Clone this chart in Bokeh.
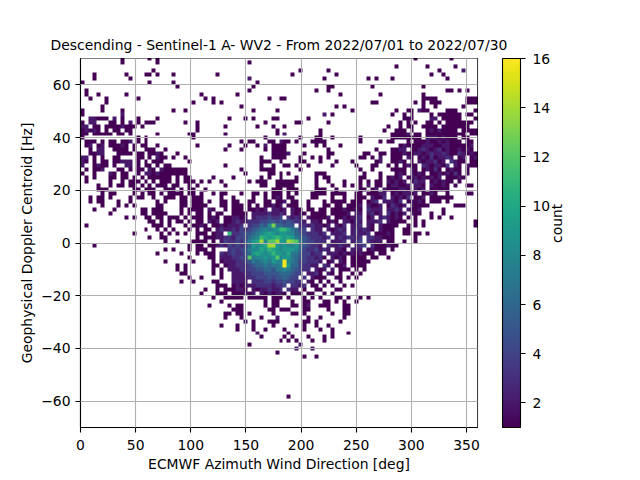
from math import pi

import numpy as np

from bokeh.embed import file_html
from bokeh.models import ColorBar, FixedTicker, LinearAxis, LinearColorMapper, Range1d
from bokeh.palettes import Viridis256
from bokeh.plotting import figure
from bokeh.resources import INLINE

# 2d histogram: one string per doppler bin (top to bottom),
# one character per wind bin, base 17 so that "g" is 16, "." is an empty bin
WIND_BINS = 100
DOPPLER_TOP = 70.76
DOPPLER_BIN = 1.51

rows_top = [
    ".......... 1......1.1 .......... .......... .......... .......... .......... .......... ....1..... ...1......",
    ".......... 1........1 .......... .......... ..1.......",
    ".......... .......... .......... .......... .......... .......... .......... .........1 .......1.. ....1.....",
    ".......... ........1. .......... .......... .......... .....1.... ..1....... .......... .......... 1.....2...",
    "...1...... .1....11.1 ...1...... ....1..... .......... ...1...... ....1..... .......... ........1. .1........",
    "...1...... ..1....... .......... .......... ..2....... .......... .1........ ..1.1...1. .......... ..1.......",
    "1......... .......1.. ...1...... .......... ....1.....",
    ".......... .......... ....1..... .......... ...1...... .......... ..11...... ...1...... ......1...",
    ".1........ .......... .......... .......... ..1....... .........1 ..1....... .......... .......... ..11.1.1..",
    ".1..1..... .1........ .......... 1........1 .......... .......... .....1.... .....1.... ......1...",
    "..1...1... ....1..... .......... .1.1...... .......1.. 11........ .......... .......... ......1111 .......111",
    "......1... .......... ........1. ...1.1.... .......... .......... .......... ...11..... ....1.1.11 1......111",
    ".....1.... .......... .......... .......... 1......... .......... ....1.1... .......... ......1..1 ......1...",
    "1....1.... 1......... ...1..1... .......... ...1.....1 .......... ........1. .........1 ..11.211.. ..111....1",
    "1......... 2......... .......... .......... .......... .......... .2.1...... ........1. .1.1....1. 111111.11.",
    "..22111.2. 1...1....1 .......... .......1.. .1.1....11 .......1.. .......... .......... .111....22 .11111...1",
    "1.22...11. 1.2.1.111. ......1..1 .......... ......1... ....11.... ..1....... .......... 1.1.1..11. 1.1111111.",
    "22.11.1111 2111.1.... .........1 ......1... ....1...1. .1........ .......... .......1.. 1.11..1111 .1111111..",
    "12121.1.11 .11....... .........1 .......... .........1 .......... 1......... ......1..1 11.1...121 21111.1111",
    "11.11111.1 1.1......1 .......11. ......1... .........1 .2........ 1......... ........11 112.11.111 1111111.11",
    "1......... ....1.1... ........1. .......... ......1... .....1...1 1..1...... 1.......11 111111.222 12111.11..",
    ".111.1.11. 112.1.1... .......... .......... 1.11...11. 211.1...11 11........ 1....1.11. ..1.111211 212111.11.",
    ".12.12.111 21.1.11..1 .........1 .......1.. .1..1.2.11 11....1..1 .1...1.... .......... 1211112221 122111112.",
    "..1.22..11 11.1..111. .1........ ......1... 1.....1.11 11........ ..1....... ....1...11 22.1123212 312112121.",
    "..1122...1 111.11.112 1...1..... .......... ........11 112...1... ..11...... .11..11.11 1211221232 2321132121",
]

rows_upper = [
    "22.1.1..11 ....11.1.2 11.1..1... .......... .....1..11 11...1..1. 1.1....... 11.1.2..11 1.21.12131 2232.12.12",
    "21.1.11.11 222.1.1.11 1......1.. .......... .....111.. 1....11... 1...1...1. ....12..11 21.1.21223 12.3211.11",
    "2..1211.1. .22.1.11.1 .11....... ......1... .....1..1. .11.1..1.. ...1.....1 ...11..1.1 .1211.3212 213.21.211",
    ".1.112...1 1.1.11.21. 2111111... .......... 1....1111. .....1.... .......... 1..1....11 11.21.1213 1.1211.1..",
    "1..1...21. 11..1.2212 1111111... .......... .1.....11. 1.1......1 11........ .1...1...1 21.2121.11 212131.1..",
    ".1.1...11. 11.1.1.111 111.1.11.. ...1....1. .....1.1.. 1...1....1 .11....... 11...1.121 2.12212121 2.11121...",
    ".1.....1.. 1.111.1.1. 111.1.111. 1.1..1.... ..1.111..1 11111....1 ..1...1... 1.1.11.212 12.1322.12 1211.1....",
    "....1..1.1 1.11.1.1.1 11.11..1.1 ......1... .....11..1 1111.....1 ...1..1.1. 1.2.11.122 112.221.21 121.1..11.",
    "....111... ...11.111. .111.1.11. .1........ ........11 1.111....1 11..1..... 11.12.2111 221.212.11 111.......",
    ".....1.11. ...1.1.11. 1.1111.11. 1..1.11... 1..11.1.11 1.1.1...11 11.1111..1 1.11122.12 12212.1121 ..1....11.",
    "..1.11.1.. ..1.11..1. .111.11.11 1....1..1. ...1..1.12 1.11....11 ...1..1..1 11.2113.21 213.112.11 1111......",
    "..1.11...1 ..1......1 .1...11.11 1.1..11.11 ..11..11.1 12.11..1.. .1.1111.11 1.123.2221 3.12121.11 1.1.......",
    ".....1...1 .1.1.....1 1....11.11 11...11.11 1.1.1.1121 2.111..1.. .11.11.111 2.2112.132 12.21111.. ....111...",
    "...1....1. .....11.11 1....1.111 1.21..1.11 1.11212.22 12.211.11. 11.1112112 1.3222.223 2.2112.... .1........",
    ".......1.. .....11.11 11...1.1.1 1.1.11..11 11.2222322 32.2121.11 11.11112.2 2.2312.312 12.211..1. .1........",
    ".......... .1.1..11.1 1.111.1.11 1.121.1122 12.2333433 4.3232.211 112.112122 3.12.23212 1.1.1...1. 1..1......",
]

rows_core = [
    ".......... .......11. 1.1.11.1.1 1.212.1123 2233344554 5454332.22 1.121.2213 2.2223.211 11..1.1... .........1",
    ".1........ ........11 1.1...1.11 21.1121222 3.344658d6 6555.33232 212.213.22 3.21.21111 ..1.1.1... .........1",
    ".......... ......1..1 .1.1...1.1 .11.232232 4345678789 bb97644.32 2.21232.23 2321.2111. .11....... ..........",
    ".......... ...1...... 1.1.1.1..1 11.122.b33 4556789a98 9988654333 23.2223.23 223.11121. .11.11.1.. ..........",
    ".......... .......1.. 11.......1 .111223324 44678ba9ab a9a9765433 323.232332 3.3322111. ....1..... ..........",
    ".......... .......... .1..1...11 11.1.24334 3579ae8cce 99edc75443 33.2223.23 4.3222.11. .1..1..... ..........",
    "...1...... .......... .......1.1 1.11232434 346989aee9 8988965433 2.322322.2 34.3111211 .......... ..........",
    ".......... .......... .1.1...1.1 11.1...343 45788a9ba9 8999864334 232.221.22 2.12111.1. .......... ..........",
    ".......... .........1 .....1...1 .111.32343 3569a989b9 98a7754423 3.22212121 2111.11... .......... ..........",
    ".......... .......... .......1.. ..11.22233 44c788989c 8997654332 31.2121.11 11.11..1.. .......... ..........",
    ".......... .......... .1......1. ...1.12223 3457678798 8g87644333 2.12.21.11 111....... .......... ..........",
    ".......... .......... ....1.1... ...11.1223 3345667677 8g96643322 .32.112.11 11........ .......... ..........",
    ".......... .......... ....1.1... ...1.1.222 3344556657 78765433.2 12.2.111.1 .1........ .......... ..........",
    ".......... .......... .....11... ...1.1..22 2334445555 666544.223 1.21.1..1. 1......... .......... ..........",
    ".......... .......... .......1.. 1....1..22 2233444545 56544.3.21 11..11.1.1 .......... .......... ..........",
    ".......... .......... .....1..1. ...11...22 22.3334434 454433.21. 1.1..1.... .......... .......... ..........",
    ".......... .......... .......... ....111.12 1222333323 34.3323.11 .1.1..1.1. .......... .......... ..........",
    ".......... .......... .......... .1..1.1112 21.2122322 3.322.1..1 1...11.... .......... .......... ..........",
    ".......... .......... .......... 1...111.11 1212.21212 21.111.11. .1.1...... .......... .......... ..........",
    ".......... .......... .......... ...1..1111 1.11111.11 1.1...1.1. 1...11.1.. 1.1....... .......... ..........",
]

rows_tail = [
    ".......... .......... .......... .....1.... ......1.11 ...1..11.. .11.1.1..1",
    ".......... .......... .......... ..1....1.1 1.....1.11 ...11.12.. 111...11..",
    ".......... .......... .......... ........11 1......11. 111...11.. ..1...11..",
    ".......... .......... .......... ......11.1 1.1.....1. ...11.1... ...1..11..",
    ".......... .......... .......... ......1... 1....1...2 .......1.. 1.....1...",
    ".......... .......... .......... .......... .2.1...111 ......11.1 .....1....",
    ".......... .......... .......... .....1...1 ...1....1. ....1.1..1 ..1.......",
    ".......... .......... .......... .........1 ...1..1... .1....1... 1..1......",
    ".......... .......... .......... .......... ....2..... ..1....... ...1...1..",
    ".......... .......... .......... .......... .....1.... .1.1...1.. .1.1......",
    ".......... .......... .......... .......... .......... 1.1.1...1. .1........",
    ".......... .......... .......... .......... ..1....... .....2....",
    ".......... .......... .......... .......... .......... ....2...2.",
    ".......... .......... .......... .......... .........1",
    ".......... .......... .......... .......... .......... ......1..1",
    "", "", "", "", "", "", "", "", "",
    ".......... .......... .......... .......... .......... ..1.......",
]

x_ticks = [0, 50, 100, 150, 200, 250, 300, 350]
y_ticks = [-60, -40, -20, 0, 20, 40, 60]
bar_ticks = [2, 4, 6, 8, 10, 12, 14, 16]

rows = rows_top + rows_upper + rows_core + rows_tail + [""] * 8
counts = np.full((len(rows), WIND_BINS), np.nan)
for r, row in enumerate(rows):
    for c, ch in enumerate(row.replace(" ", "")):
        if ch != ".":
            counts[r, c] = int(ch, 17)

mapper = LinearColorMapper(palette=Viridis256, low=1, high=16, nan_color="white")

FONT = "DejaVu Sans"
SIZE = "13.9px"

p = figure(
    frame_width=397,
    frame_height=369,
    x_range=Range1d(0, 360),
    y_range=Range1d(-70, 70),
    output_backend="svg",
    toolbar_location=None,
    min_border_left=80,
    min_border_top=58,
    min_border_bottom=50,
    min_border_right=150,
)

# image rows run bottom to top
height = len(rows) * DOPPLER_BIN
p.image(image=[counts[::-1]], x=0, y=DOPPLER_TOP - height, dw=360, dh=height, color_mapper=mapper)

p.title.text = "Descending - Sentinel-1 A- WV2 - From 2022/07/01 to 2022/07/30"
p.title.align = "center"
p.title.text_font = FONT
p.title.text_font_size = SIZE
p.title.text_font_style = "normal"
p.title.text_color = "black"
p.title.standoff = 12

p.xaxis.ticker = FixedTicker(ticks=x_ticks)
p.yaxis.ticker = FixedTicker(ticks=y_ticks)
p.xaxis.axis_label = "ECMWF Azimuth Wind Direction [deg]"
p.yaxis.axis_label = "Geophysical Doppler Centroid [Hz]"
p.yaxis.major_label_overrides = {v: str(v).replace("-", "\u2212") for v in y_ticks}

for ax in (p.xaxis[0], p.yaxis[0]):
    ax.axis_label_text_font = FONT
    ax.axis_label_text_font_size = SIZE
    ax.axis_label_text_font_style = "normal"
    ax.axis_label_text_color = "black"
    ax.major_label_text_font = FONT
    ax.major_label_text_font_size = SIZE
    ax.major_label_text_color = "black"
    ax.major_tick_in = 0
    ax.major_tick_out = 5
    ax.minor_tick_line_color = None
    ax.axis_line_width = 1.1
    ax.major_tick_line_width = 1.1
p.xaxis.major_label_standoff = 7
p.xaxis.axis_label_standoff = 3
p.yaxis.axis_label_standoff = 3
p.yaxis.major_label_orientation = "horizontal"

p.grid.level = "overlay"
p.grid.grid_line_color = "#b0b0b0"
p.grid.grid_line_width = 1.1
p.outline_line_color = "black"
p.outline_line_width = 1.1

bar = ColorBar(
    color_mapper=mapper,
    ticker=FixedTicker(ticks=bar_ticks),
    location=(422, 0),
    width=18,
    height=369,
    margin=0,
    padding=0,
    background_fill_color=None,
    major_tick_in=0,
    major_tick_out=5,
    major_tick_line_color="black",
    major_tick_line_width=1.1,
    minor_tick_line_color=None,
    bar_line_color="black",
    bar_line_width=1.1,
    label_standoff=7,
    major_label_text_font=FONT,
    major_label_text_font_size=SIZE,
    major_label_text_color="black",
)
p.add_layout(bar)

# an empty right axis only carries the colour bar's label
count_axis = LinearAxis(
    ticker=FixedTicker(ticks=[]),
    axis_label="count",
    axis_label_standoff=79,
    axis_label_orientation=pi / 2,
    axis_label_text_font=FONT,
    axis_label_text_font_size=SIZE,
    axis_label_text_font_style="normal",
    axis_label_text_color="black",
    axis_line_color=None,
    major_tick_line_color=None,
    minor_tick_line_color=None,
)
p.add_layout(count_axis, "right")

open("out.html", "w").write(file_html(p, INLINE))
